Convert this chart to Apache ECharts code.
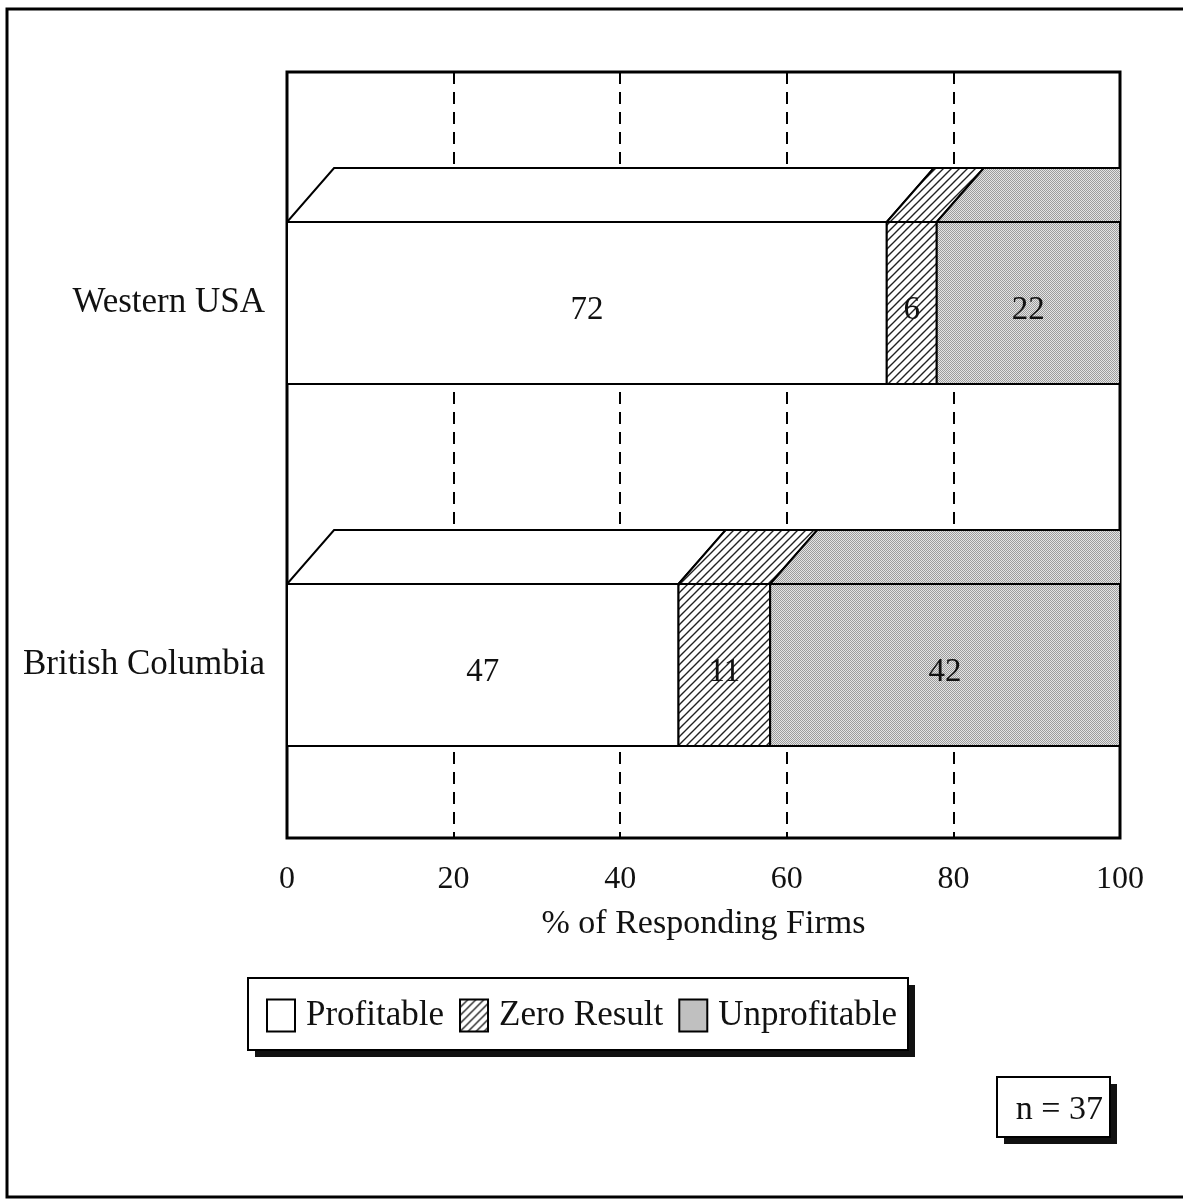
<!DOCTYPE html>
<html>
<head>
<meta charset="utf-8">
<script src="https://cdn.jsdelivr.net/npm/echarts@6/dist/echarts.min.js"></script>
<style>
  html, body { margin: 0; padding: 0; background: #fff; }
  #chart { width: 1183px; height: 1199px; }
</style>
</head>
<body>
<div id="chart"></div>
<script>
// data
const regions = ["Western USA", "British Columbia"];
const profitable = [72, 47];
const zeroResult = [6, 11];
const unprofitable = [22, 42];
const xTicks = [0, 20, 40, 60, 80, 100];
const sampleNote = "n = 37";

const FONT = "'Liberation Serif', 'DejaVu Serif', serif";

// hatch pattern "/"
function makeHatch() {
  const c = document.createElement("canvas");
  c.width = 8; c.height = 8;
  const g = c.getContext("2d");
  g.fillStyle = "#fff";
  g.fillRect(0, 0, 8, 8);
  g.strokeStyle = "#222";
  g.lineWidth = 1.4;
  g.beginPath();
  g.moveTo(-1, 9); g.lineTo(9, -1);
  g.moveTo(-1, 1); g.lineTo(1, -1);
  g.moveTo(7, 9); g.lineTo(9, 7);
  g.stroke();
  return c;
}

// stipple gray
function makeDots() {
  const c = document.createElement("canvas");
  c.width = 2; c.height = 2;
  const g = c.getContext("2d");
  g.fillStyle = "#e4e4e4";
  g.fillRect(0, 0, 2, 2);
  g.fillStyle = "#9c9c9c";
  g.fillRect(0, 0, 1, 1);
  g.fillRect(1, 1, 1, 1);
  return c;
}

const fills = {
  "Profitable": "#ffffff",
  "Zero Result": { image: makeHatch(), repeat: "repeat" },
  "Unprofitable": { image: makeDots(), repeat: "repeat" }
};

// [categoryIndex, start, end, value]
function segData(vals, offsets) {
  return vals.map((v, i) => [i, offsets[i], offsets[i] + v, v]);
}
const zeros = regions.map(() => 0);
const profData = segData(profitable, zeros);
const zeroData = segData(zeroResult, profitable);
const unprofData = segData(unprofitable, profitable.map((p, i) => p + zeroResult[i]));

function render3d(fill) {
  return function (params, api) {
    const ci = api.value(0);
    const p0 = api.coord([api.value(1), ci]);
    const p1 = api.coord([api.value(2), ci]);
    const band = api.size([0, 1])[1];
    const h = band * 0.4475;
    const depth = band * 0.149;
    const dx = band * 0.13;
    const top = p0[1] - h / 2;
    const st = { fill: fill, stroke: "#000", lineWidth: 2 };
    return {
      type: "group",
      children: [
        {
          type: "polygon",
          shape: { points: [[p0[0], top], [p0[0] + dx, top - depth], [p1[0] + dx, top - depth], [p1[0], top]] },
          style: st
        },
        {
          type: "rect",
          shape: { x: p0[0], y: top, width: p1[0] - p0[0], height: h },
          style: st
        },
        {
          type: "text",
          x: (p0[0] + p1[0]) / 2,
          y: p0[1] + 7,
          style: {
            text: String(api.value(3)),
            font: "33px " + FONT,
            fill: "#111",
            align: "center",
            verticalAlign: "middle"
          }
        }
      ]
    };
  };
}

function barSeries(name, data) {
  return {
    name: name,
    type: "custom",
    xAxisIndex: 1,
    yAxisIndex: 1,
    clip: true,
    itemStyle: { color: fills[name] },
    encode: { x: [1, 2], y: 0 },
    renderItem: render3d(fills[name]),
    data: data
  };
}

// framed box with a solid drop shadow
function shadowBox(x, y, w, h) {
  return [
    { type: "rect", z: 1, silent: true, shape: { x: x + 7, y: y + 7, width: w, height: h }, style: { fill: "#111" } },
    { type: "rect", z: 2, silent: true, shape: { x: x, y: y, width: w, height: h }, style: { fill: "#fff", stroke: "#000", lineWidth: 2 } }
  ];
}

const chart = echarts.init(document.getElementById("chart"));

chart.setOption({
  animation: false,
  backgroundColor: "#fff",
  textStyle: { fontFamily: FONT },
  title: {
    text: sampleNote,
    right: 80,
    top: 1093,
    padding: 0,
    textStyle: { fontSize: 34, fontWeight: "normal", color: "#111", fontFamily: FONT }
  },
  legend: {
    left: 266,
    top: 998,
    padding: 0,
    icon: "rect",
    itemWidth: 28,
    itemHeight: 32,
    itemGap: 15,
    itemStyle: { borderColor: "#000", borderWidth: 2 },
    textStyle: { fontSize: 35, color: "#111", fontFamily: FONT, padding: [4, 0, 0, 6] },
    data: ["Profitable", "Zero Result", "Unprofitable"]
  },
  graphic: [
    {
      type: "rect",
      z: 100,
      silent: true,
      shape: { x: 7, y: 9, width: 1190, height: 1188 },
      style: { fill: null, stroke: "#000", lineWidth: 3 }
    }
  ].concat(shadowBox(248, 978, 660, 72), shadowBox(997, 1077, 113, 60)),
  grid: [
    { left: 287, right: 63, top: 72, bottom: 361, show: true, borderColor: "#000", borderWidth: 3, backgroundColor: "transparent" },
    { left: 287, right: 63, top: 122, bottom: 353 }
  ],
  xAxis: [
    {
      gridIndex: 0,
      type: "value",
      min: 0,
      max: 100,
      interval: 20,
      axisLine: { show: false },
      axisTick: { show: false },
      axisLabel: { fontSize: 32, color: "#111", margin: 26, fontFamily: FONT,
        formatter: v => (xTicks.indexOf(v) >= 0 ? String(v) : "") },
      splitLine: { show: true, lineStyle: { color: "#000", width: 2, type: [12, 8] } },
      name: "% of Responding Firms",
      nameLocation: "middle",
      nameGap: 69,
      nameTextStyle: { fontSize: 34, color: "#111", fontFamily: FONT }
    },
    { gridIndex: 1, type: "value", min: 0, max: 100, show: false }
  ],
  yAxis: [
    { gridIndex: 0, type: "value", show: false },
    {
      gridIndex: 1,
      type: "category",
      inverse: true,
      data: regions,
      axisLine: { show: false },
      axisTick: { show: false },
      splitLine: { show: false },
      axisLabel: { fontSize: 35, color: "#111", margin: 22, fontFamily: FONT, padding: [6, 0, 0, 0] }
    }
  ],
  series: [
    barSeries("Profitable", profData),
    barSeries("Zero Result", zeroData),
    barSeries("Unprofitable", unprofData)
  ]
});
</script>
</body>
</html>
